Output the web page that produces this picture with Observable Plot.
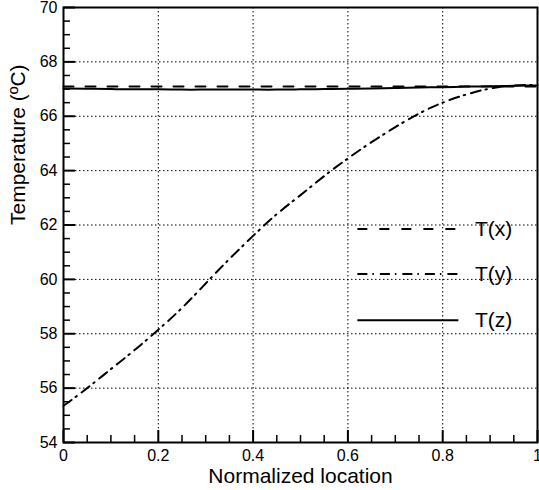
<!DOCTYPE html>
<html>
<head>
<meta charset="utf-8">
<script src="https://cdn.jsdelivr.net/npm/d3@7"></script>
<script src="https://cdn.jsdelivr.net/npm/@observablehq/plot@0.6"></script>
<style>
  html, body { margin: 0; padding: 0; background: #fff; }
  svg { display: block; }
</style>
</head>
<body>
<div id="chart"></div>
<script>
// ---- data ----
const locations = [0, 0.05, 0.1, 0.15, 0.2, 0.25, 0.3, 0.35, 0.4, 0.45, 0.5, 0.55, 0.6, 0.65, 0.7, 0.75, 0.8, 0.85, 0.9, 0.95, 1];
const Tx = [67.09, 67.09, 67.09, 67.09, 67.09, 67.09, 67.09, 67.09, 67.09, 67.09, 67.09, 67.09, 67.09, 67.09, 67.09, 67.09, 67.09, 67.09, 67.09, 67.09, 67.09];
const Ty = [55.35, 56.0, 56.7, 57.4, 58.15, 58.95, 59.85, 60.75, 61.6, 62.4, 63.1, 63.8, 64.45, 65.05, 65.6, 66.1, 66.5, 66.8, 67.02, 67.13, 67.15];
const Tz = [67.02, 67.01, 67.0, 66.99, 66.99, 66.98, 66.98, 66.98, 66.98, 66.98, 66.99, 67.0, 67.01, 67.02, 67.04, 67.06, 67.07, 67.09, 67.1, 67.12, 67.13];

const seriesNames = ["T(x)", "T(y)", "T(z)"];
const seriesValues = [Tx, Ty, Tz];
const seriesDash = ["10,12", "10,5,1.5,6", null];

const xMajor = [0, 0.2, 0.4, 0.6, 0.8, 1];
const xMajorLabels = ["0", "0.2", "0.4", "0.6", "0.8", "1"];
const xMinor = [0.05, 0.1, 0.15, 0.25, 0.3, 0.35, 0.45, 0.5, 0.55, 0.65, 0.7, 0.75, 0.85, 0.9, 0.95];
const yMajor = [54, 56, 58, 60, 62, 64, 66, 68, 70];
const yMajorLabels = ["54", "56", "58", "60", "62", "64", "66", "68", "70"];
const yMinor = [54.5, 55, 55.5, 56.5, 57, 57.5, 58.5, 59, 59.5, 60.5, 61, 61.5, 62.5, 63, 63.5, 64.5, 65, 65.5, 66.5, 67, 67.5, 68.5, 69, 69.5];

const xTitle = "Normalized location";
const yTitle = "Temperature (ºC)";

// legend layout (in data space)
const legendRowsY = [61.85, 60.2, 58.5];
const legendX1 = 0.62, legendX2 = 0.833, legendTextX = 0.868;

// ---- build tables ----
const rows = [];
seriesNames.forEach((name, i) => {
  locations.forEach((x, j) => rows.push({series: name, x, y: seriesValues[i][j]}));
});
const legendData = seriesNames.map((name, i) => ({name, dash: seriesDash[i], y: legendRowsY[i]}));

const font = "'Liberation Sans', Arial, Helvetica, sans-serif";

const lineMarks = seriesNames.map((name, i) =>
  Plot.line(rows.filter(d => d.series === name), {
    x: "x", y: "y", stroke: "black", strokeWidth: 2,
    strokeDasharray: seriesDash[i] ?? undefined, curve: "natural"
  })
);
const legendLines = legendData.map(d =>
  Plot.link([d], {
    x1: () => legendX1, x2: () => legendX2, y1: "y", y2: "y",
    stroke: "black", strokeWidth: 2, strokeDasharray: d.dash ?? undefined
  })
);

const chart = Plot.plot({
  width: 539,
  height: 490,
  marginLeft: 63,
  marginRight: 2,
  marginTop: 7,
  marginBottom: 48,
  style: {fontFamily: font, background: "white", color: "black"},
  x: {domain: [0, 1]},
  y: {domain: [54, 70]},
  marks: [
    Plot.gridX(xMajor.slice(1, -1), {stroke: "black", strokeOpacity: 1, strokeWidth: 1, strokeDasharray: "1.5,2.5"}),
    Plot.gridY(yMajor.slice(1, -1), {stroke: "black", strokeOpacity: 1, strokeWidth: 1, strokeDasharray: "1.5,2.5"}),
    Plot.axisX(xMajor, {anchor: "bottom", tickSize: -12, tickPadding: 19, strokeWidth: 2, fontSize: 16,
      tickFormat: (d, i) => xMajorLabels[i], label: null}),
    Plot.axisX(xMinor, {anchor: "bottom", tickSize: -7, strokeWidth: 1.5, text: null, label: null}),
    Plot.axisY(yMajor, {anchor: "left", tickSize: -12, tickPadding: 18, strokeWidth: 2, fontSize: 16,
      tickFormat: (d, i) => yMajorLabels[i], label: null}),
    Plot.axisY(yMinor, {anchor: "left", tickSize: -7, strokeWidth: 1.5, text: null, label: null}),
    Plot.text([xTitle], {frameAnchor: "bottom", dy: 40, text: d => d, fontSize: 21, fill: "black"}),
    Plot.text([yTitle], {frameAnchor: "left", dx: -45, rotate: -90, text: d => d, fontSize: 21, fill: "black"}),
    Plot.frame({stroke: "black", strokeWidth: 2}),
    ...lineMarks,
    ...legendLines,
    Plot.text(legendData, {x: () => legendTextX, y: "y", text: "name", textAnchor: "start", fontSize: 21, fill: "black"})
  ]
});

document.getElementById("chart").appendChild(chart);
</script>
</body>
</html>
